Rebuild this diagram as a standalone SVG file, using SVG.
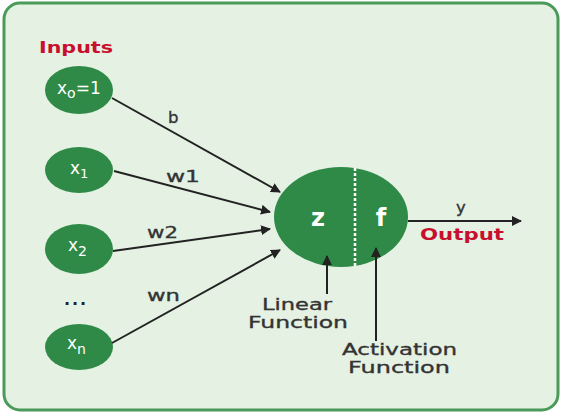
<svg xmlns="http://www.w3.org/2000/svg" width="564" height="416" viewBox="0 0 564 416">
<defs>
<style>
.node{fill:#2e8a46}
.nt{fill:#fff;font-family:"DejaVu Sans",sans-serif;font-size:17px}
.lbl{fill:#333;stroke:#333;stroke-width:0.35;font-family:"DejaVu Sans",sans-serif;font-size:16.5px}
.red{fill:#c8102e;font-family:"DejaVu Sans",sans-serif;font-size:16.5px;font-weight:bold}
.edge{stroke:#222;stroke-width:2;fill:none;marker-end:url(#ah)}
</style>
<marker id="ah" viewBox="0 0 10 10" refX="9" refY="5" markerWidth="5" markerHeight="5" orient="auto" markerUnits="strokeWidth">
<path d="M0,0 L10,5 L0,10 z" fill="#222"/>
</marker>
</defs>
<rect x="4" y="3" width="554" height="407" rx="16" fill="#e4f1e3" stroke="#4a9a5a" stroke-width="3"/>
<text class="red" x="39" y="53" textLength="74" lengthAdjust="spacingAndGlyphs">Inputs</text>

<g id="x0">
<ellipse class="node" cx="79" cy="90" rx="34" ry="24"/>
<text class="nt" x="57" y="94">x<tspan dy="4" font-size="14">o</tspan><tspan dy="-4">=1</tspan></text>
</g>
<g id="x1">
<ellipse class="node" cx="79" cy="170" rx="34" ry="23"/>
<text class="nt" x="70" y="174">x<tspan dy="4" font-size="13">1</tspan></text>
</g>
<g id="x2">
<ellipse class="node" cx="79" cy="249" rx="34" ry="25"/>
<text class="nt" x="68" y="251">x<tspan dy="5" font-size="14">2</tspan></text>
</g>
<g id="dots">
<text x="76" y="305" text-anchor="middle" font-family="DejaVu Sans, sans-serif" font-size="16" font-weight="bold" fill="#222" letter-spacing="2">...</text>
</g>
<g id="xn">
<ellipse class="node" cx="79" cy="347" rx="34" ry="23"/>
<text class="nt" x="67" y="349">x<tspan dy="5" font-size="14">n</tspan></text>
</g>

<g id="neuron">
<ellipse class="node" cx="341" cy="217" rx="67" ry="50"/>
<line x1="355" y1="168" x2="355" y2="266" stroke="#fff" stroke-width="2.5" stroke-dasharray="3,2"/>
<text x="318" y="226" fill="#fff" font-family="DejaVu Sans, sans-serif" font-size="24" font-weight="bold" text-anchor="middle">z</text>
<text x="381" y="226" fill="#fff" font-family="DejaVu Sans, sans-serif" font-size="24" font-weight="bold" text-anchor="middle">f</text>
</g>

<g id="edges">
<line class="edge" x1="112" y1="98" x2="280" y2="192"/>
<line class="edge" x1="114" y1="171" x2="270" y2="212"/>
<line class="edge" x1="113" y1="251" x2="270" y2="229"/>
<line class="edge" x1="112" y1="343" x2="280" y2="250"/>
<line class="edge" x1="408" y1="221" x2="521" y2="221"/>
<line class="edge" x1="327" y1="294" x2="327" y2="256"/>
<line class="edge" x1="376" y1="341" x2="376" y2="248"/>
<text class="lbl" x="168" y="123">b</text>
<text class="lbl" x="166" y="182" textLength="34" lengthAdjust="spacingAndGlyphs">w1</text>
<text class="lbl" x="147" y="238" textLength="31" lengthAdjust="spacingAndGlyphs">w2</text>
<text class="lbl" x="147" y="301" textLength="33" lengthAdjust="spacingAndGlyphs">wn</text>
<text class="lbl" x="461" y="213" text-anchor="middle">y</text>
</g>

<g id="output">
<text class="red" x="420" y="240" textLength="84" lengthAdjust="spacingAndGlyphs">Output</text>
</g>
<g id="linear">
<text class="lbl" x="262" y="310" textLength="70" lengthAdjust="spacingAndGlyphs">Linear</text>
<text class="lbl" x="248" y="328" textLength="100" lengthAdjust="spacingAndGlyphs">Function</text>
</g>
<g id="activation">
<text class="lbl" x="342" y="355" textLength="115" lengthAdjust="spacingAndGlyphs">Activation</text>
<text class="lbl" x="348" y="373" textLength="102" lengthAdjust="spacingAndGlyphs">Function</text>
</g>
</svg>
